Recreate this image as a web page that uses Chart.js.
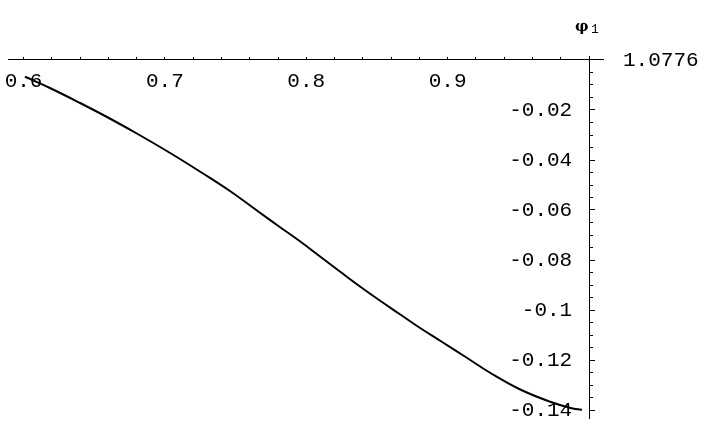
<!DOCTYPE html>
<html>
<head>
<meta charset="utf-8">
<script src="https://cdn.jsdelivr.net/npm/chart.js@4"></script>
<style>
  html, body { margin: 0; padding: 0; background: #fff; }
  #wrap { width: 705px; height: 436px; position: relative; }
</style>
</head>
<body>
<div id="wrap"><canvas id="c" width="705" height="436"></canvas></div>
<script>
// Data
const xValues = [0.601, 0.619, 0.640, 0.661, 0.682, 0.704, 0.725, 0.746, 0.767, 0.781, 0.796, 0.810,
                 0.824, 0.838, 0.852, 0.866, 0.880, 0.895, 0.913, 0.930, 0.951, 0.972, 0.987, 0.995];
const phiValues = [-0.0067, -0.0113, -0.0172, -0.0234, -0.0300, -0.0373, -0.0447, -0.0524, -0.0610, -0.0667, -0.0727, -0.0787,
                   -0.0847, -0.0906, -0.0962, -0.1016, -0.1070, -0.1124, -0.1189, -0.1251, -0.1317, -0.1366, -0.1392, -0.1400];

// Tick values and labels
const xMajorTicks = [0.6, 0.7, 0.8, 0.9, 1.0];
const xTickLabels = ['0.6', '0.7', '0.8', '0.9', ''];
const yMajorTicks = [0, -0.02, -0.04, -0.06, -0.08, -0.1, -0.12, -0.14];
const yTickLabels = ['', '-0.02', '-0.04', '-0.06', '-0.08', '-0.1', '-0.12', '-0.14'];
const xAxisLabel = '1.0776';
const yAxisLabel = 'φ';
const yAxisLabelSub = '1';

const points = xValues.map((x, i) => ({ x: x, y: phiValues[i] }));
const monoFont = { family: '"Liberation Mono", "DejaVu Sans Mono", monospace', size: 21 };

const X_MIN = 0.589, X_MAX = 1.0099, Y_MIN = -0.1432, Y_MAX = 0.0016;
const Y_AXIS_AT = 1.0;       // x value where the vertical axis crosses
const Y_LABELS_AT = 0.9881;  // x value where the vertical-axis labels end

// keep the crossing axes from taking layout space
const noSpaceH = (s) => { s.height = 0; s.paddingLeft = 0; s.paddingRight = 0; s.paddingTop = 0; s.paddingBottom = 0; };
const noSpaceV = (s) => { s.width = 0; s.paddingLeft = 0; s.paddingRight = 0; s.paddingTop = 0; s.paddingBottom = 0; };

const axisLabels = {
  id: 'axisLabels',
  afterDraw(chart) {
    const ctx = chart.ctx;
    const xs = chart.scales.x, ys = chart.scales.y;
    const y0 = ys.getPixelForValue(0);
    const x1 = xs.getPixelForValue(Y_AXIS_AT);
    ctx.save();
    ctx.fillStyle = '#000';
    ctx.font = '21px "Liberation Mono", monospace';
    ctx.textAlign = 'left';
    ctx.textBaseline = 'middle';
    ctx.fillText(xAxisLabel, xs.right + 20, y0);
    ctx.font = 'bold 15px "DejaVu Serif", serif';
    ctx.textBaseline = 'alphabetic';
    ctx.fillText(yAxisLabel, x1 - 14, y0 - 29);
    ctx.font = '13px "Liberation Mono", monospace';
    ctx.fillText(yAxisLabelSub, x1 + 2, y0 - 27);
    ctx.restore();
  }
};

new Chart(document.getElementById('c'), {
  type: 'scatter',
  data: {
    datasets: [{
      data: points,
      showLine: true,
      borderColor: '#000',
      borderWidth: 2,
      pointRadius: 0,
      tension: 0.4
    }]
  },
  options: {
    responsive: false,
    animation: false,
    events: [],
    layout: { padding: { left: 8, right: 102, top: 56, bottom: 18 } },
    plugins: { legend: { display: false }, tooltip: { enabled: false }, title: { display: false } },
    scales: {
      x: {
        type: 'linear', min: X_MIN, max: X_MAX,
        position: { y: 0 },
        afterFit: noSpaceH,
        afterBuildTicks: (s) => { s.ticks = xMajorTicks.map(v => ({ value: v })); },
        grid: { drawOnChartArea: false, drawTicks: true, tickLength: -3, tickColor: '#000', tickWidth: 1 },
        border: { display: true, color: '#000', width: 1 },
        ticks: {
          color: '#000', font: monoFont, padding: 12, maxRotation: 0, autoSkip: false,
          callback: (v, i) => xTickLabels[i]
        }
      },
      xm: {
        type: 'linear', min: X_MIN, max: X_MAX,
        position: { y: 0 },
        afterFit: noSpaceH,
        afterBuildTicks: (s) => { s.ticks = s.ticks.filter(t => t.value >= 0.599 && t.value <= 1.001); },
        grid: { drawOnChartArea: false, drawTicks: true, tickLength: -3, tickColor: '#000', tickWidth: 1 },
        border: { display: false },
        ticks: { stepSize: 0.02, includeBounds: false, display: false, autoSkip: false }
      },
      y: {
        type: 'linear', min: Y_MIN, max: Y_MAX,
        position: { x: Y_AXIS_AT },
        afterFit: noSpaceV,
        afterBuildTicks: (s) => { s.ticks = yMajorTicks.map(v => ({ value: v })); },
        grid: { drawOnChartArea: false, drawTicks: true, tickLength: -6, tickColor: '#000', tickWidth: 1 },
        border: { display: true, color: '#000', width: 1 },
        ticks: { display: false, autoSkip: false }
      },
      ym: {
        type: 'linear', min: Y_MIN, max: Y_MAX,
        position: { x: Y_AXIS_AT },
        afterFit: noSpaceV,
        grid: { drawOnChartArea: false, drawTicks: true, tickLength: -4, tickColor: '#000', tickWidth: 1 },
        border: { display: false },
        ticks: { stepSize: 0.005, includeBounds: false, display: false, autoSkip: false }
      },
      yl: {
        type: 'linear', min: Y_MIN, max: Y_MAX,
        position: { x: Y_LABELS_AT },
        afterFit: noSpaceV,
        afterBuildTicks: (s) => { s.ticks = yMajorTicks.map(v => ({ value: v })); },
        grid: { display: false },
        border: { display: false },
        ticks: {
          color: '#000', font: monoFont, autoSkip: false,
          callback: (v, i) => yTickLabels[i]
        }
      }
    }
  },
  plugins: [axisLabels]
});
</script>
</body>
</html>
